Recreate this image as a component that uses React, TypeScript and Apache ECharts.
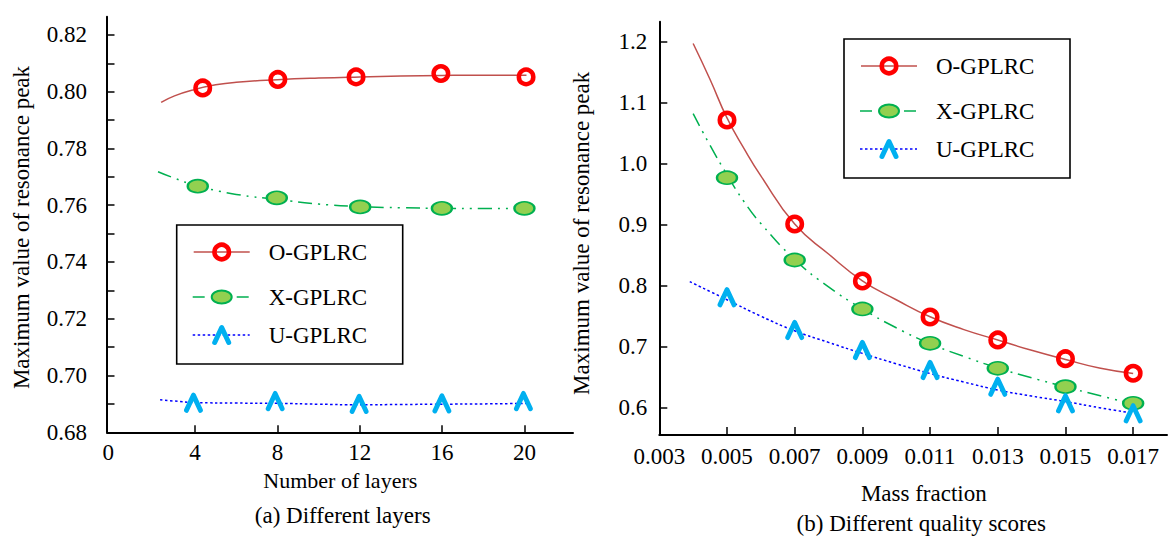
import React, { useEffect, useRef } from "react";
import * as echarts from "echarts";

// ---------- Left panel: Number of layers ----------
const layerTicks = [4, 8, 12, 16, 20];
const layerLabels = [0, 4, 8, 12, 16, 20];
const peakTicksA = [0.68, 0.69, 0.7, 0.71, 0.72, 0.73, 0.74, 0.75, 0.76, 0.77, 0.78, 0.79, 0.8, 0.81, 0.82];
const peakLabelsA = [0.68, 0.7, 0.72, 0.74, 0.76, 0.78, 0.8, 0.82];

const oLayersX = [4.37, 8.02, 11.82, 15.94, 20.08];
const oLayersY = [0.8013, 0.8043, 0.8052, 0.8064, 0.8052];
const xLayersX = [4.13, 7.97, 12.02, 15.99, 20.0];
const xLayersY = [0.7667, 0.7626, 0.7594, 0.7589, 0.7589];
const uLayersX = [3.92, 7.89, 11.97, 15.99, 19.95];
const uLayersY = [0.6904, 0.691, 0.69, 0.6902, 0.691];

const oFitLayersX = [2.35, 3, 4, 5, 6, 8, 10, 12, 14, 16, 18, 20.1];
const oFitLayersY = [0.7962, 0.7985, 0.8008, 0.8024, 0.8033, 0.8042, 0.8048, 0.8052, 0.8055, 0.8057, 0.8058, 0.8058];
const xFitLayersX = [2.2, 3, 4, 5, 6, 8, 10, 12, 14, 16, 18, 20.2];
const xFitLayersY = [0.7718, 0.7695, 0.767, 0.7652, 0.7638, 0.762, 0.7604, 0.7595, 0.7591, 0.7589, 0.7588, 0.7589];
const uFitLayersX = [2.3, 3, 4, 6, 8, 10, 12, 14, 16, 18, 20.2];
const uFitLayersY = [0.6915, 0.691, 0.6905, 0.6903, 0.6902, 0.6899, 0.6897, 0.6898, 0.6899, 0.69, 0.6902];

// ---------- Right panel: Mass fraction ----------
const massTicks = [0.005, 0.007, 0.009, 0.011, 0.013, 0.015, 0.017];
const massLabels = [0.003, 0.005, 0.007, 0.009, 0.011, 0.013, 0.015, 0.017];
const peakTicksB = [0.6, 0.7, 0.8, 0.9, 1.0, 1.1, 1.2];

const massX = [0.005, 0.007, 0.009, 0.011, 0.013, 0.015, 0.017];
const oMassY = [1.0716, 0.9011, 0.8077, 0.7487, 0.711, 0.6803, 0.6564];
const xMassY = [0.977, 0.8421, 0.7618, 0.7056, 0.6646, 0.6344, 0.6072];
const uMassY = [0.781, 0.7274, 0.6946, 0.6618, 0.6344, 0.6072, 0.5908];

const oFitMassX = [0.004, 0.0045, 0.005, 0.0055, 0.006, 0.007, 0.008, 0.009, 0.01, 0.011, 0.012, 0.013, 0.014, 0.015, 0.016, 0.017];
const oFitMassY = [1.197, 1.138, 1.075, 1.025, 0.98, 0.901, 0.852, 0.808, 0.777, 0.749, 0.728, 0.711, 0.694, 0.679, 0.665, 0.656];
const xFitMassX = [0.004, 0.0045, 0.005, 0.0055, 0.006, 0.007, 0.008, 0.009, 0.01, 0.011, 0.012, 0.013, 0.014, 0.015, 0.016, 0.017];
const xFitMassY = [1.082, 1.03, 0.982, 0.938, 0.902, 0.843, 0.798, 0.762, 0.731, 0.705, 0.684, 0.665, 0.649, 0.634, 0.62, 0.606];
const uFitMassX = [0.0039, 0.005, 0.006, 0.007, 0.008, 0.009, 0.01, 0.011, 0.012, 0.013, 0.014, 0.015, 0.016, 0.017];
const uFitMassY = [0.8066, 0.777, 0.75, 0.726, 0.707, 0.689, 0.672, 0.656, 0.642, 0.629, 0.619, 0.61, 0.6, 0.591];

const seriesNames = ["O-GPLRC", "X-GPLRC", "U-GPLRC"];

const FONT = "'Liberation Serif', 'Times New Roman', serif";
const C_O_LINE = "#c0504d";
const C_O_MARK = "#ff0000";
const C_X_LINE = "#00b050";
const C_X_FILL = "#92d050";
const C_U_LINE = "#0000ff";
const C_U_MARK = "#00b0f0";
const DASH_DOT_DOT = [14, 6, 2, 6, 2, 6];
const DOTTED = [2.5, 2.5];
const CARET = "path://M0,15 L7,0 L14,15";

const pairs = (xs: number[], ys: number[]) => xs.map((x, i) => [x, ys[i]]);

function fitLine(idx: number, xs: number[], ys: number[], color: string, type: any) {
  return {
    type: "line",
    xAxisIndex: idx,
    yAxisIndex: idx,
    data: pairs(xs, ys),
    smooth: true,
    symbol: "none",
    silent: true,
    z: 2,
    lineStyle: { color, width: 1.5, type },
  };
}

function markO(idx: number, xs: number[], ys: number[]) {
  return {
    type: "scatter",
    xAxisIndex: idx,
    yAxisIndex: idx,
    data: pairs(xs, ys),
    symbol: "circle",
    symbolSize: 14.5,
    z: 5,
    itemStyle: { color: "rgba(255,255,255,0)", borderColor: C_O_MARK, borderWidth: 4.5, opacity: 1 },
  };
}
function markX(idx: number, xs: number[], ys: number[]) {
  return {
    type: "scatter",
    xAxisIndex: idx,
    yAxisIndex: idx,
    data: pairs(xs, ys),
    symbol: "circle",
    symbolSize: [20, 13],
    z: 5,
    itemStyle: { color: C_X_FILL, borderColor: C_X_LINE, borderWidth: 2, opacity: 1 },
  };
}
function markU(idx: number, xs: number[], ys: number[]) {
  return {
    type: "scatter",
    xAxisIndex: idx,
    yAxisIndex: idx,
    data: pairs(xs, ys),
    symbol: CARET,
    symbolSize: [14, 15],
    z: 5,
    itemStyle: {
      color: "rgba(0,0,0,0)",
      borderColor: C_U_MARK,
      borderWidth: 5,
      borderCap: "round",
      borderJoin: "round",
      opacity: 1,
    },
  };
}

function legendGroup(x: number, y: number) {
  const rows = [27, 72, 110];
  const children: any[] = [
    {
      type: "rect",
      shape: { x: 0, y: 0, width: 226, height: 139 },
      style: { fill: "#fff", stroke: "#000", lineWidth: 1.6 },
    },
    {
      type: "line",
      shape: { x1: 17, y1: rows[0], x2: 73, y2: rows[0] },
      style: { stroke: C_O_LINE, lineWidth: 1.5 },
    },
    {
      type: "circle",
      shape: { cx: 45, cy: rows[0], r: 7.3 },
      style: { fill: "rgba(255,255,255,0)", stroke: C_O_MARK, lineWidth: 4.5 },
    },
    {
      type: "line",
      shape: { x1: 16, y1: rows[1], x2: 72, y2: rows[1] },
      style: { stroke: C_X_LINE, lineWidth: 1.5, lineDash: [12, 32] },
    },
    {
      type: "ellipse",
      shape: { cx: 45, cy: rows[1], rx: 10, ry: 6.5 },
      style: { fill: C_X_FILL, stroke: C_X_LINE, lineWidth: 2 },
    },
    {
      type: "line",
      shape: { x1: 16, y1: rows[2], x2: 73, y2: rows[2] },
      style: { stroke: C_U_LINE, lineWidth: 1.5, lineDash: DOTTED },
    },
    {
      type: "polyline",
      shape: { points: [[38, rows[2] + 7.5], [45, rows[2] - 7.5], [52, rows[2] + 7.5]] },
      style: { fill: null, stroke: C_U_MARK, lineWidth: 5, lineCap: "round", lineJoin: "round" },
    },
  ];
  seriesNames.forEach((name, i) => {
    children.push({
      type: "text",
      x: 92,
      y: rows[i],
      style: { text: name, font: `23px ${FONT}`, fill: "#000", align: "left", verticalAlign: "middle" },
    });
  });
  return { type: "group", x, y, children };
}

function txt(text: string, x: number, y: number, size: number, rotate = false) {
  return {
    type: "text",
    x,
    y,
    rotation: rotate ? Math.PI / 2 : 0,
    style: { text, font: `${size}px ${FONT}`, fill: "#000", align: "center", verticalAlign: "middle" },
  };
}

export default function App() {
  const ref = useRef<HTMLDivElement>(null);
  useEffect(() => {
    if (!ref.current) return;
    const chart = echarts.init(ref.current, null, { renderer: "svg" });
    const axisLine = { onZero: false, lineStyle: { color: "#000", width: 2 } };
    const label = { fontFamily: FONT, fontSize: 23, color: "#000" };
    const option: any = {
      animation: false,
      backgroundColor: "#fff",
      grid: [
        { left: 107, top: 16.7, width: 466, height: 415.6 },
        { left: 659.3, top: 21.7, width: 507.7, height: 413.3 },
      ],
      xAxis: [
        {
          type: "value",
          gridIndex: 0,
          min: -0.28,
          max: 22.36,
          axisLine,
          splitLine: { show: false },
          axisTick: { inside: true, length: 7, customValues: layerTicks, lineStyle: { color: "#000", width: 1.5 } },
          axisLabel: {
            ...label,
            margin: 9,
            customValues: layerLabels,
            formatter: (v: number) => (Math.round(v) === 0 ? "{z|0}" : String(Math.round(v))),
            rich: { z: { fontFamily: FONT, fontSize: 23, color: "#000", padding: [0, 9, 0, 0] } },
          },
        },
        {
          type: "value",
          gridIndex: 1,
          min: 0.003,
          max: 0.018,
          axisLine,
          splitLine: { show: false },
          axisTick: { inside: true, length: 8, customValues: massTicks, lineStyle: { color: "#000", width: 1.5 } },
          axisLabel: { ...label, margin: 10, customValues: massLabels, formatter: (v: number) => v.toFixed(3) },
        },
      ],
      yAxis: [
        {
          type: "value",
          gridIndex: 0,
          min: 0.68,
          max: 0.8264,
          axisLine,
          splitLine: { show: false },
          axisTick: { inside: true, length: 7.5, customValues: peakTicksA, lineStyle: { color: "#000", width: 1.5 } },
          axisLabel: { ...label, margin: 20, customValues: peakLabelsA, formatter: (v: number) => v.toFixed(2) },
        },
        {
          type: "value",
          gridIndex: 1,
          min: 0.5552,
          max: 1.2328,
          axisLine,
          splitLine: { show: false },
          axisTick: { inside: true, length: 8, customValues: peakTicksB, lineStyle: { color: "#000", width: 1.5 } },
          axisLabel: { ...label, margin: 12, customValues: peakTicksB, formatter: (v: number) => v.toFixed(1) },
        },
      ],
      series: [
        fitLine(0, oFitLayersX, oFitLayersY, C_O_LINE, "solid"),
        fitLine(0, xFitLayersX, xFitLayersY, C_X_LINE, DASH_DOT_DOT),
        fitLine(0, uFitLayersX, uFitLayersY, C_U_LINE, DOTTED),
        markO(0, oLayersX, oLayersY),
        markX(0, xLayersX, xLayersY),
        markU(0, uLayersX, uLayersY),
        fitLine(1, oFitMassX, oFitMassY, C_O_LINE, "solid"),
        fitLine(1, xFitMassX, xFitMassY, C_X_LINE, DASH_DOT_DOT),
        fitLine(1, uFitMassX, uFitMassY, C_U_LINE, DOTTED),
        markO(1, massX, oMassY),
        markX(1, massX, xMassY),
        markU(1, massX, uMassY),
      ],
      graphic: [
        txt("Maximum value of resonance peak", 21.7, 227.5, 23, true),
        txt("Number of layers", 340.3, 480, 22),
        txt("(a) Different layers", 342.7, 515, 23),
        txt("Maximum value of resonance peak", 581.7, 233.3, 23, true),
        txt("Mass fraction", 923.8, 493.3, 23),
        txt("(b) Different quality scores", 921.2, 523.3, 23),
        legendGroup(176.7, 225),
        legendGroup(844, 39),
      ],
    };
    chart.setOption(option);
    return () => chart.dispose();
  }, []);
  return (
    <div
      ref={ref}
      style={{ position: "absolute", left: 0, top: 0, width: 1168, height: 536, background: "#fff" }}
    />
  );
}
